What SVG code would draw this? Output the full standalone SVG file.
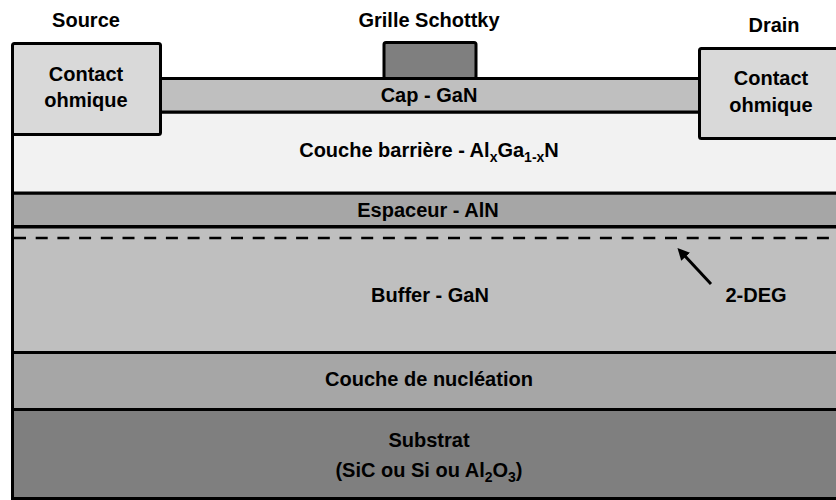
<svg xmlns="http://www.w3.org/2000/svg" width="836" height="500" viewBox="0 0 836 500">
  <defs>
    <style>
      .ly { stroke: #000; stroke-width: 3; }
      .t { font-family: "Liberation Sans", Arial, sans-serif; font-weight: bold; font-size: 20px; fill: #000; text-anchor: middle; }
      .sub { font-size: 14px; }
    </style>
    <marker id="ah" viewBox="0 0 10 10" refX="2" refY="5" markerWidth="4" markerHeight="4" orient="auto-start-reverse">
      <path d="M0,0 L10,5 L0,10 z" fill="#000"/>
    </marker>
  </defs>
  <rect width="836" height="500" fill="#fff"/>

  <g id="substrat">
    <rect class="ly" x="12.5" y="409.5" width="830" height="89" fill="#7f7f7f"/>
    <text class="t" x="429" y="447">Substrat</text>
    <text class="t" x="429" y="477">(SiC ou Si ou Al<tspan class="sub" dy="5">2</tspan><tspan dy="-5">O</tspan><tspan class="sub" dy="5">3</tspan><tspan dy="-5">)</tspan></text>
  </g>

  <g id="nucleation">
    <rect class="ly" x="12.5" y="352.5" width="830" height="57" fill="#a6a6a6"/>
    <text class="t" x="429" y="386">Couche de nucléation</text>
  </g>

  <g id="buffer">
    <rect class="ly" x="12.5" y="227" width="830" height="125.5" fill="#bfbfbf"/>
    <text class="t" x="430" y="302">Buffer - GaN</text>
  </g>

  <g id="deg2">
    <line x1="14" y1="238" x2="830" y2="238" stroke="#000" stroke-width="2.5" stroke-dasharray="12 9.7"/>
    <text class="t" x="756" y="302">2-DEG</text>
  </g>

  <g id="espaceur">
    <rect class="ly" x="12.5" y="193" width="830" height="33.5" fill="#a6a6a6"/>
    <text class="t" x="428" y="217">Espaceur - AlN</text>
  </g>

  <g id="barriere">
    <rect class="ly" x="12.5" y="112" width="830" height="81" fill="#f2f2f2"/>
    <text class="t" x="429" y="157">Couche barrière - Al<tspan class="sub" dy="5">x</tspan><tspan dy="-5">Ga</tspan><tspan class="sub" dy="5">1-x</tspan><tspan dy="-5">N</tspan></text>
  </g>

  <g id="cap">
    <rect class="ly" x="160" y="78.5" width="540" height="33.5" fill="#bfbfbf"/>
    <text class="t" x="429" y="102">Cap - GaN</text>
  </g>

  <g id="grille">
    <rect class="ly" x="384" y="42.5" width="92" height="36" rx="2" fill="#7f7f7f"/>
    <text class="t" x="429" y="27">Grille Schottky</text>
  </g>

  <g id="source">
    <rect class="ly" x="12.5" y="43.5" width="148" height="91" rx="2" fill="#d9d9d9"/>
    <text class="t" x="86" y="81">Contact</text>
    <text class="t" x="86" y="107">ohmique</text>
    <text class="t" x="86" y="27">Source</text>
  </g>

  <g id="drain">
    <rect class="ly" x="699.5" y="48.5" width="150" height="90" rx="2" fill="#d9d9d9"/>
    <text class="t" x="771" y="85">Contact</text>
    <text class="t" x="771" y="112">ohmique</text>
    <text class="t" x="774" y="32">Drain</text>
  </g>

  <g id="connectors">
    <line x1="711" y1="284" x2="684" y2="255" stroke="#000" stroke-width="3" marker-end="url(#ah)"/>
  </g>
</svg>
